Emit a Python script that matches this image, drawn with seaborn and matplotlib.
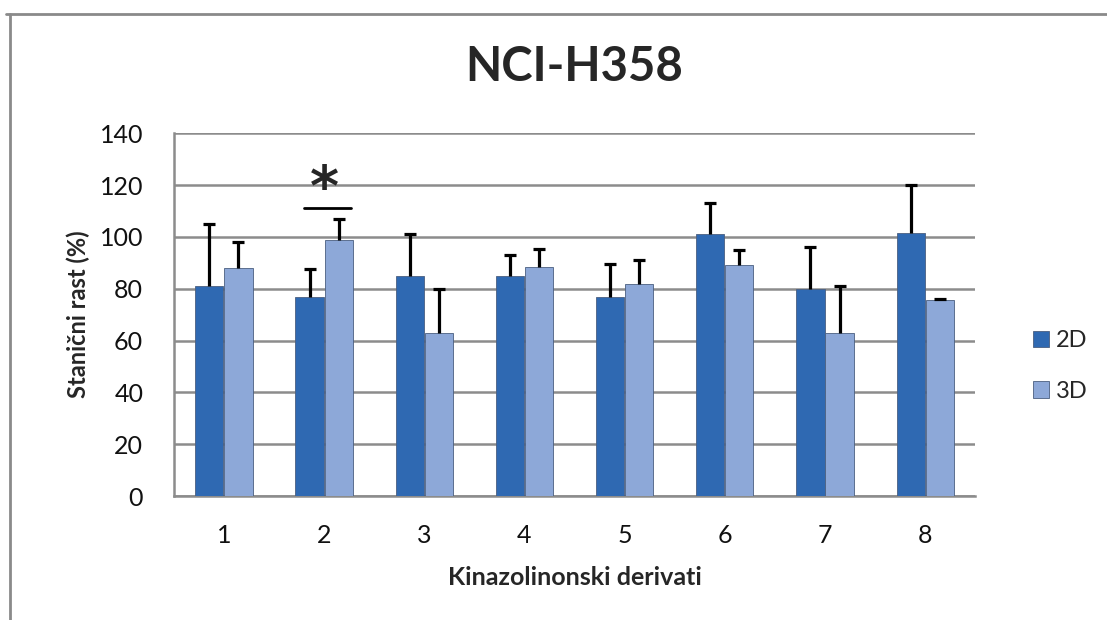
import matplotlib
matplotlib.use("Agg")
import matplotlib.pyplot as plt
import seaborn as sns
import pandas as pd
import numpy as np
from matplotlib.lines import Line2D

categories = ["1", "2", "3", "4", "5", "6", "7", "8"]
series_names = ["2D", "3D"]
values_2d = [81, 77, 85, 85, 77, 101, 80, 101.5]
values_3d = [88, 99, 63, 88.5, 82, 89, 63, 75.5]
err_2d = [24, 10.5, 16, 8, 12.5, 12, 16, 18.5]
err_3d = [10, 8, 17, 7, 9, 6, 18, 0.7]
y_ticks = [0, 20, 40, 60, 80, 100, 120, 140]

df = pd.DataFrame({
    "cat": categories * 2,
    "series": ["2D"] * len(categories) + ["3D"] * len(categories),
    "value": values_2d + values_3d,
})

sns.set_theme(style="white")
plt.rcParams["font.family"] = ["Lato", "DejaVu Sans"]

fig = plt.figure(figsize=(11.07, 6.20), dpi=100)
ax = fig.add_axes([0.157, 0.2, 0.724, 0.585])

palette = {"2D": "#2F69B2", "3D": "#8DA8D8"}
sns.barplot(data=df, x="cat", y="value", hue="series", order=categories,
            hue_order=series_names, palette=palette, width=0.58,
            errorbar=None, ax=ax, saturation=1, zorder=3,
            edgecolor="#4a5f80", linewidth=0.6, gap=0.03)

errs = {"2D": err_2d, "3D": err_3d}
cap = 0.06
for cont, name in zip(ax.containers, series_names):
    for bar, e in zip(cont.patches, errs[name]):
        xc = bar.get_x() + bar.get_width() / 2
        h = bar.get_height()
        ax.vlines(xc, h, h + e, color="black", linewidth=2.3, zorder=4)
        ax.hlines(h + e, xc - cap, xc + cap, color="black", linewidth=2.3, zorder=4)

ax.set_ylim(0, 140)
ax.set_yticks(y_ticks)
ax.set_xlim(-0.5, len(categories) - 0.5)
ax.yaxis.grid(True, color="#8c8c8c", linewidth=1.8, zorder=0)
ax.set_axisbelow(True)
for s in ["top", "right"]:
    ax.spines[s].set_visible(False)
for s in ["left", "bottom"]:
    ax.spines[s].set_color("#8c8c8c")
    ax.spines[s].set_linewidth(1.8)
ax.tick_params(axis="y", labelsize=18, length=0, pad=22, colors="#111111")
ax.tick_params(axis="x", labelsize=18, length=0, pad=20, colors="#111111")

ax.set_xlabel("Kinazolinonski derivati", fontsize=18, fontweight="bold", labelpad=14)
ax.set_ylabel("Stanični rast (%)", fontsize=17, fontweight="bold", labelpad=7)
ax.set_title("NCI-H358", fontsize=34, fontweight="bold", pad=38)

# significance mark over group 2
ax.plot([1 - 0.2, 1 + 0.27], [111, 111], color="black", linewidth=2, zorder=5)
ax.text(1 + 0.0, 107.5, "*", ha="center", va="bottom", fontsize=40,
        fontweight="bold", family=["DejaVu Sans"])

leg = ax.legend(loc="center left", bbox_to_anchor=(1.045, 0.358), frameon=False,
                fontsize=17, handlelength=0.7, handleheight=0.7, labelspacing=1.25,
                handletextpad=0.3)

# figure frame lines (top and left)
fig.add_artist(Line2D([0.005, 1.0], [0.977, 0.977], color="#8a8a8a", linewidth=2,
                      transform=fig.transFigure))
fig.add_artist(Line2D([0.009, 0.009], [0.0, 0.977], color="#8a8a8a", linewidth=2,
                      transform=fig.transFigure))

fig.savefig("out.png", dpi=100, facecolor="white")
